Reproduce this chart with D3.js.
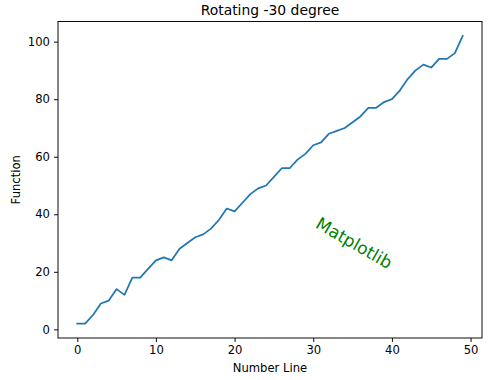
<!DOCTYPE html>
<html>
<head>
<meta charset="utf-8">
<script src="https://cdn.jsdelivr.net/npm/d3@7"></script>
<style>
    body { margin: 0; background: #fff; }
    text { font-family: "DejaVu Sans", sans-serif; fill: #000; }
</style>
</head>
<body>
<div id="chart"></div>
<script>
// data
const xValues = d3.range(50);
const yValues = [2, 2, 5, 9, 10, 14, 12, 18, 18, 21,
    24, 25, 24, 28, 30, 32, 33, 35, 38, 42,
    41, 44, 47, 49, 50, 53, 56, 56, 59, 61,
    64, 65, 68, 69, 70, 72, 74, 77, 77, 79,
    80, 83, 87, 90, 92, 91, 94, 94, 96, 102];
const xTicks = [0, 10, 20, 30, 40, 50];
const yTicks = [0, 20, 40, 60, 80, 100];
const titleText = 'Rotating -30 degree';
const xLabel = 'Number Line';
const yLabel = 'Function';
const noteText = 'Matplotlib';
const notePos = [35.2, 30];

const width = 500, height = 380;
const margin = { top: 21.5, right: 18, bottom: 42, left: 58 };
const innerW = width - margin.left - margin.right;
const innerH = height - margin.top - margin.bottom;

const data = xValues.map((x, i) => ({ x: x, y: yValues[i] }));

// matplotlib style 5% padding on both axes
const xPad = (d3.max(xValues) - d3.min(xValues)) * 0.05;
const yPad = (d3.max(yValues) - d3.min(yValues)) * 0.05;

const xScale = d3.scaleLinear()
    .domain([d3.min(xValues) - xPad, d3.max(xValues) + xPad])
    .range([0, innerW]);
const yScale = d3.scaleLinear()
    .domain([d3.min(yValues) - yPad, d3.max(yValues) + yPad])
    .range([innerH, 0]);

const svg = d3.select('#chart')
    .append('svg')
    .attr('width', width)
    .attr('height', height);

const viz = svg.append('g')
    .attr('transform', `translate(${margin.left}, ${margin.top})`);

// line
const line = d3.line()
    .x(d => xScale(d.x))
    .y(d => yScale(d.y));

viz.append('path')
    .datum(data)
    .attr('fill', 'none')
    .attr('stroke', '#1f77b4')
    .attr('stroke-width', 1.75)
    .attr('stroke-linejoin', 'round')
    .attr('stroke-linecap', 'square')
    .attr('d', line);

// axes
const xAxis = d3.axisBottom(xScale)
    .tickValues(xTicks)
    .tickSize(4)
    .tickPadding(4)
    .tickSizeOuter(0);
const yAxis = d3.axisLeft(yScale)
    .tickValues(yTicks)
    .tickSize(4)
    .tickPadding(4)
    .tickSizeOuter(0);

const xAxisGroup = viz.append('g')
    .attr('transform', `translate(0, ${innerH})`)
    .call(xAxis);
const yAxisGroup = viz.append('g')
    .call(yAxis);

[xAxisGroup, yAxisGroup].forEach(g => {
    g.select('.domain').remove();
    g.selectAll('.tick line').attr('stroke', '#000').attr('stroke-width', 0.95);
    g.selectAll('.tick text')
        .style('font-family', '"DejaVu Sans", sans-serif')
        .style('font-size', '11.6px')
        .attr('fill', '#000');
});

// frame
viz.append('rect')
    .attr('width', innerW)
    .attr('height', innerH)
    .attr('fill', 'none')
    .attr('stroke', '#000')
    .attr('stroke-width', 0.95);

// rotated note
viz.append('text')
    .attr('transform', `translate(${xScale(notePos[0])}, ${yScale(notePos[1])}) rotate(30)`)
    .attr('text-anchor', 'middle')
    .attr('dominant-baseline', 'central')
    .style('font-size', '17px')
    .style('fill', 'green')
    .text(noteText);

// titles
svg.append('text')
    .attr('x', margin.left + innerW / 2)
    .attr('y', 15)
    .attr('text-anchor', 'middle')
    .style('font-size', '13.9px')
    .text(titleText);

svg.append('text')
    .attr('x', margin.left + innerW / 2)
    .attr('y', 371.5)
    .attr('text-anchor', 'middle')
    .style('font-size', '11.6px')
    .text(xLabel);

svg.append('text')
    .attr('transform', `translate(20, ${margin.top + innerH / 2}) rotate(-90)`)
    .attr('text-anchor', 'middle')
    .style('font-size', '11.6px')
    .text(yLabel);
</script>
</body>
</html>
